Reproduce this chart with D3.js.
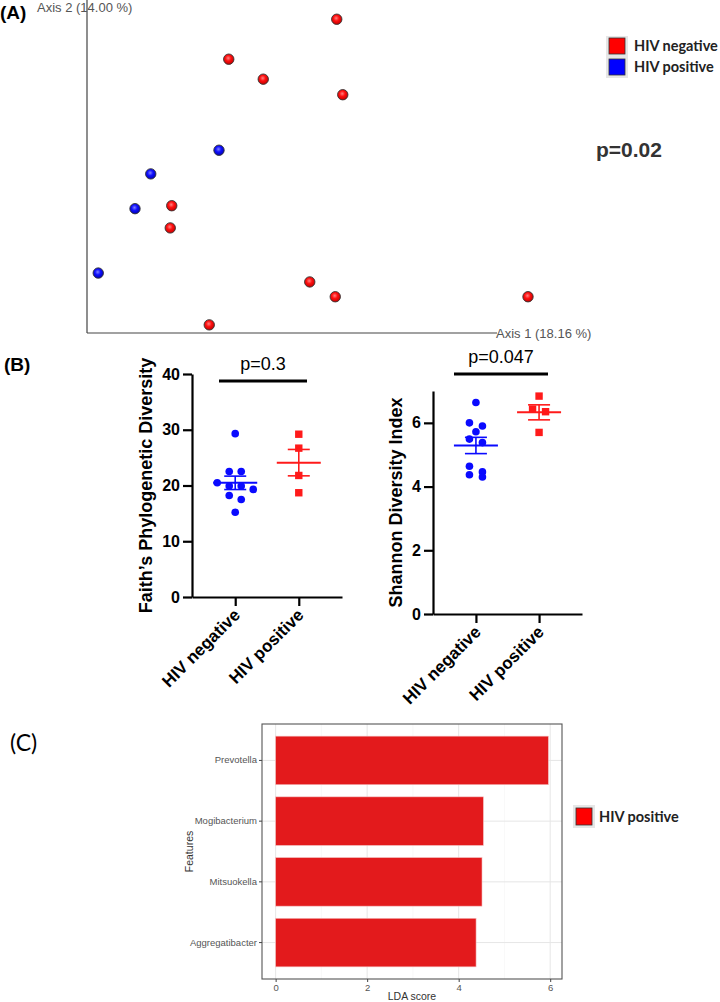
<!DOCTYPE html>
<html>
<head>
<meta charset="utf-8">
<script src="https://cdn.jsdelivr.net/npm/d3@7"></script>
<style>
  body { margin: 0; background: #fff; }
  svg { display: block; font-family: "Liberation Sans", Arial, sans-serif; }
</style>
</head>
<body>
<div id="chart"></div>
<script>
  // ---- data ----
  // (A) PCoA coordinates
  var pcoaGroup = ["neg","neg","neg","neg","pos","pos","neg","pos","neg","pos","neg","neg","neg","neg"];
  var pcoaAxis1 = [0.083, -0.061, -0.015, 0.091, -0.074, -0.165, -0.137, -0.186, -0.139, -0.235, 0.047, 0.081, -0.087, 0.338];
  var pcoaAxis2 = [0.224, 0.170, 0.143, 0.122, 0.047, 0.015, -0.028, -0.032, -0.058, -0.119, -0.131, -0.151, -0.189, -0.151];
  var groupNames = ["HIV negative", "HIV positive"];

  // (B) alpha diversity
  var faithNeg = [29.3, 22.5, 22.5, 20.5, 19.9, 19.9, 19.3, 18.2, 17.5, 15.2];
  var faithPos = [29.2, 26.7, 21.8, 18.7];
  var shannonNeg = [6.64, 6.0, 5.9, 5.72, 5.49, 5.38, 4.64, 4.46, 4.37, 4.30];
  var shannonPos = [6.84, 6.43, 6.35, 5.70];
  var faithTicks = [0, 10, 20, 30, 40];
  var shannonTicks = [0, 2, 4, 6];

  // (C) LEfSe
  var features = ["Prevotella", "Mogibacterium", "Mitsuokella", "Aggregatibacter"];
  var ldaScores = [5.96, 4.54, 4.51, 4.38];
  var ldaTicks = [0, 2, 4, 6];

  var svg = d3.select("#chart").append("svg")
    .attr("width", 720)
    .attr("height", 1002);

  var defs = svg.append("defs");
  function ballGrad(id, light, mid, dark) {
    var g = defs.append("radialGradient").attr("id", id)
      .attr("cx", "45%").attr("cy", "40%").attr("r", "60%");
    g.append("stop").attr("offset", "0%").attr("stop-color", light);
    g.append("stop").attr("offset", "45%").attr("stop-color", mid);
    g.append("stop").attr("offset", "100%").attr("stop-color", dark);
  }
  ballGrad("ballRed", "#ff8080", "#ff1010", "#c00000");
  ballGrad("ballBlue", "#8080ff", "#1010ff", "#0000b0");

  // ================= (A) =================
  svg.append("text").attr("x", 0).attr("y", 19)
    .attr("font-size", "19px").attr("font-weight", "bold").text("(A)");

  var ax = d3.scaleLinear().domain([-0.25, 0.35]).range([87, 537]);
  var ay = d3.scaleLinear().domain([-0.2, 0.25]).range([333, 0]);

  svg.append("line").attr("x1", 87).attr("x2", 87).attr("y1", 0).attr("y2", 333)
    .attr("stroke", "#444").attr("stroke-width", 1.2);
  svg.append("line").attr("x1", 87).attr("x2", 497).attr("y1", 333).attr("y2", 333)
    .attr("stroke", "#444").attr("stroke-width", 1.2);
  svg.append("text").attr("x", 37).attr("y", 12)
    .attr("font-size", "13px").attr("fill", "#555").text("Axis 2 (14.00 %)");
  svg.append("text").attr("x", 496).attr("y", 338)
    .attr("font-size", "13px").attr("fill", "#555").text("Axis 1 (18.16 %)");

  svg.append("g").selectAll("circle")
    .data(pcoaAxis1.map((v, i) => ({x: v, y: pcoaAxis2[i], g: pcoaGroup[i]})))
    .enter().append("circle")
    .attr("cx", d => ax(d.x))
    .attr("cy", d => ay(d.y))
    .attr("r", 5.2)
    .attr("fill", d => d.g == "neg" ? "url(#ballRed)" : "url(#ballBlue)")
    .attr("stroke", "#333")
    .attr("stroke-width", 0.9);

  // legend A
  var legA = svg.append("g").attr("transform", "translate(606,36)");
  legA.append("rect").attr("width", 22).attr("height", 42).attr("fill", "#e6e6e6");
  legA.selectAll("rect.key").data(groupNames).enter().append("rect")
    .attr("class", "key")
    .attr("x", 3).attr("y", (d, i) => 2 + i * 21)
    .attr("width", 16).attr("height", 16)
    .attr("fill", (d, i) => i == 0 ? "#ff0000" : "#0000ff")
    .attr("stroke", "#333").attr("stroke-width", 0.8);
  legA.selectAll("text").data(groupNames).enter().append("text")
    .attr("x", 28).attr("y", (d, i) => 15 + i * 21)
    .attr("font-family", "Lato, 'Open Sans', sans-serif")
    .attr("font-weight", "bold").attr("font-size", "14.5px").attr("fill", "#222")
    .text(d => d);

  svg.append("text").attr("x", 596).attr("y", 157)
    .attr("font-size", "21px").attr("font-weight", "bold").attr("fill", "#333")
    .text("p=0.02");

  // ================= (B) =================
  svg.append("text").attr("x", 4).attr("y", 371)
    .attr("font-size", "19px").attr("font-weight", "bold").text("(B)");

  function dotPanel(opt) {
    var g = svg.append("g");
    var y = d3.scaleLinear().domain(opt.domain).range([opt.y0, opt.y1]);
    var x = d3.scalePoint().domain(groupNames).range([opt.x0, opt.x1]).padding(0.68);

    var yAxis = g.append("g").attr("transform", "translate(" + opt.x0 + ",0)")
      .call(d3.axisLeft(y).tickValues(opt.ticks).tickFormat(d3.format("d"))
        .tickSize(9).tickPadding(3).tickSizeOuter(0));
    var xAxis = g.append("g").attr("transform", "translate(0," + opt.y0 + ")")
      .call(d3.axisBottom(x).tickSize(9).tickSizeOuter(0).tickFormat(""));
    g.selectAll(".domain, .tick line").attr("stroke", "#000").attr("stroke-width", 2.2);
    yAxis.selectAll("text").attr("font-size", "16px").attr("font-weight", "bold")
      .attr("fill", "#000").attr("font-family", "'Liberation Sans', Arial, sans-serif");

    g.selectAll("text.cat").data(groupNames).enter().append("text")
      .attr("class", "cat")
      .attr("transform", d => "translate(" + (x(d) + 6) + "," + (opt.y0 + 19) + ") rotate(-45)")
      .attr("text-anchor", "end")
      .attr("font-size", "17px").attr("font-weight", "bold")
      .text(d => d);

    g.append("text")
      .attr("transform", "translate(" + opt.labelX + "," + ((opt.y0 + opt.y1) / 2 + opt.labelDy) + ") rotate(-90)")
      .attr("text-anchor", "middle")
      .attr("font-size", "18px").attr("font-weight", "bold")
      .text(opt.label);

    // significance bar
    g.append("line").attr("x1", opt.barX[0]).attr("x2", opt.barX[1])
      .attr("y1", opt.barY).attr("y2", opt.barY)
      .attr("stroke", "#000").attr("stroke-width", 3);
    g.append("text").attr("x", (opt.barX[0] + opt.barX[1]) / 2).attr("y", opt.barY - 11)
      .attr("text-anchor", "middle").attr("font-size", "18px").text(opt.p);

    var series = [
      {name: groupNames[0], vals: opt.neg, color: "#0a0aff", shape: "circle"},
      {name: groupNames[1], vals: opt.pos, color: "#ff1a1a", shape: "square"}
    ];

    series.forEach(s => {
      // group points into rows of near-equal height and spread them sideways
      var sorted = s.vals.slice().sort((a, b) => b - a);
      var rows = [];
      sorted.forEach(v => {
        var last = rows[rows.length - 1];
        if (last && Math.abs(y(last[0]) - y(v)) < 7) last.push(v);
        else rows.push([v]);
      });
      var pts = [];
      rows.forEach(r => r.forEach((v, i) => pts.push({v: v, dx: (i - (r.length - 1) / 2) * opt.spacing})));

      var cx = x(s.name);
      if (s.shape == "circle") {
        g.selectAll(null).data(pts).enter().append("circle")
          .attr("cx", d => cx + d.dx).attr("cy", d => y(d.v))
          .attr("r", 3.8).attr("fill", s.color);
      } else {
        g.selectAll(null).data(pts).enter().append("rect")
          .attr("x", d => cx + d.dx - 3.7).attr("y", d => y(d.v) - 3.7)
          .attr("width", 7.4).attr("height", 7.4).attr("fill", s.color);
      }

      var mean = d3.mean(s.vals);
      var sem = d3.deviation(s.vals) / Math.sqrt(s.vals.length);
      g.append("line").attr("x1", cx - 22).attr("x2", cx + 22)
        .attr("y1", y(mean)).attr("y2", y(mean))
        .attr("stroke", s.color).attr("stroke-width", 2);
      g.append("line").attr("x1", cx).attr("x2", cx)
        .attr("y1", y(mean - sem)).attr("y2", y(mean + sem))
        .attr("stroke", s.color).attr("stroke-width", 1.6);
      [mean - sem, mean + sem].forEach(e => {
        g.append("line").attr("x1", cx - 11).attr("x2", cx + 11)
          .attr("y1", y(e)).attr("y2", y(e))
          .attr("stroke", s.color).attr("stroke-width", 1.6);
      });
    });
  }

  dotPanel({
    neg: faithNeg, pos: faithPos, domain: [0, 40], ticks: faithTicks,
    x0: 192, x1: 342, y0: 597, y1: 374,
    label: "Faith\u2019s Phylogenetic Diversity", labelX: 152, labelDy: 0,
    barX: [219, 307], barY: 381, p: "p=0.3", spacing: 12
  });

  dotPanel({
    neg: shannonNeg, pos: shannonPos, domain: [0, 7], ticks: shannonTicks,
    x0: 433, x1: 582, y0: 614, y1: 391,
    label: "Shannon Diversity Index", labelX: 402, labelDy: 0,
    barX: [454, 548], barY: 374, p: "p=0.047", spacing: 13
  });

  // ================= (C) =================
  svg.append("text").attr("x", 10).attr("y", 751)
    .attr("font-size", "23px").attr("font-family", "Lato, 'Open Sans', sans-serif")
    .text("(C)");

  var cLeft = 262, cRight = 562, cTop = 724, cBottom = 979;
  var cx = d3.scaleLinear().domain([-0.298, 6.258]).range([cLeft, cRight]);
  var cy = d3.scaleBand().domain(features).range([cTop, cBottom])
    .paddingInner(0.2).paddingOuter(0.2);

  var cg = svg.append("g");
  cg.append("rect").attr("x", cLeft).attr("y", cTop)
    .attr("width", cRight - cLeft).attr("height", cBottom - cTop).attr("fill", "#fff");
  // minor grid
  cg.selectAll("line.minor").data([1, 3, 5]).enter().append("line")
    .attr("x1", d => cx(d)).attr("x2", d => cx(d)).attr("y1", cTop).attr("y2", cBottom)
    .attr("stroke", "#f4f4f4").attr("stroke-width", 0.6);
  cg.selectAll("line.major").data(ldaTicks).enter().append("line")
    .attr("x1", d => cx(d)).attr("x2", d => cx(d)).attr("y1", cTop).attr("y2", cBottom)
    .attr("stroke", "#e6e6e6").attr("stroke-width", 1);
  cg.selectAll("line.hgrid").data(features).enter().append("line")
    .attr("x1", cLeft).attr("x2", cRight)
    .attr("y1", d => cy(d) + cy.bandwidth() / 2).attr("y2", d => cy(d) + cy.bandwidth() / 2)
    .attr("stroke", "#e6e6e6").attr("stroke-width", 1);

  cg.selectAll("rect.bar").data(features).enter().append("rect")
    .attr("class", "bar")
    .attr("x", cx(0))
    .attr("y", d => cy(d))
    .attr("width", (d, i) => cx(ldaScores[i]) - cx(0))
    .attr("height", cy.bandwidth())
    .attr("fill", "#e31a1c")
    .attr("stroke", "#f4c0c0").attr("stroke-width", 0.6);

  cg.append("rect").attr("x", cLeft).attr("y", cTop)
    .attr("width", cRight - cLeft).attr("height", cBottom - cTop)
    .attr("fill", "none").attr("stroke", "#555").attr("stroke-width", 1.1);

  var cxAxis = cg.append("g").attr("transform", "translate(0," + cBottom + ")")
    .call(d3.axisBottom(cx).tickValues(ldaTicks).tickFormat(d3.format("d"))
      .tickSize(3).tickPadding(2).tickSizeOuter(0));
  var cyAxis = cg.append("g").attr("transform", "translate(" + cLeft + ",0)")
    .call(d3.axisLeft(cy).tickSize(3).tickPadding(2).tickSizeOuter(0));
  cg.selectAll(".domain").remove();
  [cxAxis, cyAxis].forEach(a => {
    a.selectAll(".tick line").attr("stroke", "#444");
    a.selectAll("text").attr("fill", "#555").attr("font-size", "9.5px")
      .attr("font-family", "'Liberation Sans Narrow', 'Liberation Sans', Arial, sans-serif");
  });

  cg.append("text").attr("x", (cLeft + cRight) / 2).attr("y", 1000)
    .attr("text-anchor", "middle").attr("font-size", "10.5px").attr("fill", "#333")
    .attr("font-family", "'Liberation Sans Narrow', 'Liberation Sans', Arial, sans-serif")
    .text("LDA score");
  cg.append("text")
    .attr("transform", "translate(193," + ((cTop + cBottom) / 2) + ") rotate(-90)")
    .attr("text-anchor", "middle").attr("font-size", "10.5px").attr("fill", "#333")
    .text("Features");

  // legend C
  var legC = svg.append("g").attr("transform", "translate(573,805)");
  legC.append("rect").attr("width", 22).attr("height", 23).attr("fill", "#e6e6e6");
  legC.append("rect").attr("x", 3).attr("y", 3).attr("width", 16).attr("height", 17)
    .attr("fill", "#ff0000").attr("stroke", "#333").attr("stroke-width", 0.8);
  legC.append("text").attr("x", 26).attr("y", 17)
    .attr("font-family", "Lato, 'Open Sans', sans-serif")
    .attr("font-weight", "bold").attr("font-size", "14.5px").attr("fill", "#222")
    .text("HIV positive");
</script>
</body>
</html>
